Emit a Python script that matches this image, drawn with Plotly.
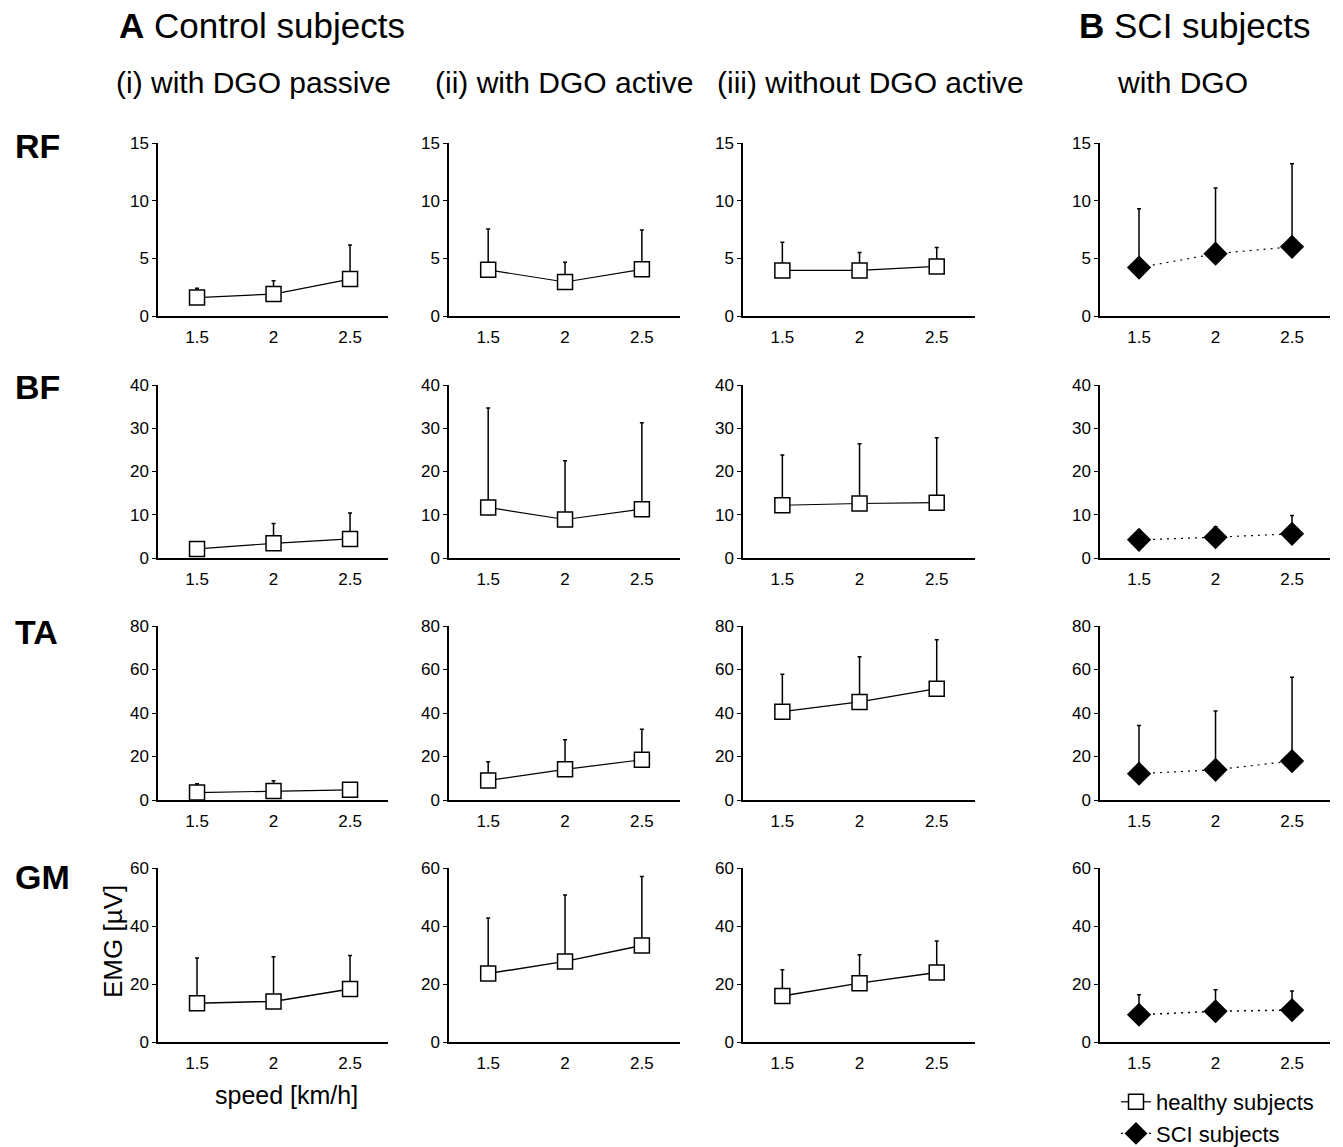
import plotly.graph_objects as go

W, H = 1343, 1147

# ---------------- data ----------------
speeds = [1.5, 2, 2.5]
speed_labels = ["1.5", "2", "2.5"]
muscles = ["RF", "BF", "TA", "GM"]
conditions = ["(i) with DGO passive", "(ii) with DGO active", "(iii) without DGO active", "with DGO"]
y_max = [15, 40, 80, 60]
y_step = [5, 10, 20, 20]

# mean EMG [µV] per muscle, per condition (3 healthy conditions, then SCI)
RF_mean = [[1.6, 1.9, 3.2], [4.0, 2.95, 4.05], [3.95, 3.95, 4.3], [4.2, 5.4, 6.0]]
RF_sd   = [[0.8, 1.15, 2.95], [3.55, 1.7, 3.4], [2.45, 1.55, 1.65], [5.1, 5.7, 7.2]]
BF_mean = [[2.1, 3.4, 4.4], [11.7, 8.9, 11.3], [12.2, 12.6, 12.8], [4.2, 4.8, 5.6]]
BF_sd   = [[1.6, 4.6, 6.0], [23.0, 13.6, 20.0], [11.6, 13.8, 15.0], [2.2, 2.4, 4.2]]
TA_mean = [[3.4, 4.1, 4.7], [9.0, 14.1, 18.5], [40.6, 45.1, 51.2], [12.1, 13.9, 17.9]]
TA_sd   = [[4.1, 4.8, 3.1], [8.6, 13.6, 14.0], [17.2, 20.8, 22.5], [22.1, 27.0, 38.5]]
GM_mean = [[13.4, 14.0, 18.3], [23.6, 27.8, 33.3], [15.9, 20.3, 24.0], [9.4, 10.6, 11.0]]
GM_sd   = [[15.6, 15.4, 11.5], [19.2, 22.9, 23.8], [9.0, 9.8, 10.8], [6.9, 7.4, 6.6]]

means = [RF_mean, BF_mean, TA_mean, GM_mean]
sds = [RF_sd, BF_sd, TA_sd, GM_sd]

# ---------------- layout geometry (pixels) ----------------
col_px = [(158, 388), (449, 680), (743, 975), (1100, 1330)]
row_px = [(143, 316), (385, 558), (626, 800), (868, 1042)]
x_range = [1.245, 2.748]

def px(x):
    return x / W

def py(y):
    return 1 - y / H

FONT = "Liberation Sans, Arial, sans-serif"

fig = go.Figure()
layout = dict(
    width=W, height=H,
    margin=dict(l=0, r=0, t=0, b=0, autoexpand=False),
    paper_bgcolor="white", plot_bgcolor="white",
    font=dict(family=FONT, color="black"),
    showlegend=True,
    legend=dict(x=px(1116), y=py(1081), xanchor="left", yanchor="top",
                font=dict(size=22, family=FONT, color="black"),
                bgcolor="rgba(0,0,0,0)", tracegroupgap=0, itemsizing="trace"),
)

idx = 0
for r, muscle in enumerate(muscles):
    for c in range(4):
        idx += 1
        xa = "x" if idx == 1 else f"x{idx}"
        ya = "y" if idx == 1 else f"y{idx}"
        sci = (c == 3)
        fig.add_trace(go.Scatter(
            x=speeds, y=means[r][c],
            xaxis=xa, yaxis=ya,
            mode="lines+markers",
            name="SCI subjects" if sci else "healthy subjects",
            showlegend=(r == 0 and c in (0, 3)),
            line=dict(color="black", width=1.5 if r == 3 else 1.2,
                      dash="2px,5px" if sci else "solid"),
            marker=dict(symbol="diamond" if sci else "square",
                        size=17 if sci else 15,
                        color="black" if sci else "white",
                        line=dict(color="black", width=1.5)),
            error_y=dict(type="data", symmetric=False, array=sds[r][c],
                         arrayminus=[0, 0, 0], color="black",
                         thickness=1.5, width=2),
            cliponaxis=False,
        ))
        x0, x1 = col_px[c]
        y0, y1 = row_px[r]
        layout["xaxis" if idx == 1 else f"xaxis{idx}"] = dict(
            domain=[px(x0), px(x1)], anchor=ya, range=x_range,
            tickmode="array", tickvals=speeds, ticktext=speed_labels,
            showline=True, linecolor="black", linewidth=1.5,
            ticks="outside", ticklen=5, tickcolor="rgba(0,0,0,0)",
            showgrid=False, zeroline=False,
            tickfont=dict(size=17, family=FONT, color="black"),
        )
        layout["yaxis" if idx == 1 else f"yaxis{idx}"] = dict(
            domain=[py(y1), py(y0)], anchor=xa, range=[0, y_max[r]],
            tickmode="linear", tick0=0, dtick=y_step[r],
            showline=True, linecolor="black", linewidth=1.5,
            ticks="outside", ticklen=4, tickwidth=1, tickcolor="black",
            showgrid=False, zeroline=False,
            tickfont=dict(size=17, family=FONT, color="black"),
        )

annotations = []

def text(x, y, s, size, xanchor="left", bold=False, angle=0):
    annotations.append(dict(
        x=px(x), y=py(y), xref="paper", yref="paper",
        text=f"<b>{s}</b>" if bold else s, showarrow=False,
        xanchor=xanchor, yanchor="middle", textangle=angle,
        font=dict(size=size, family=FONT, color="black")))

text(117, 25, "<b>A</b> Control subjects", 35)
text(1077, 25, "<b>B</b> SCI subjects", 35)
header_x = [114, 433, 715, 1115]
for hx, cond in zip(header_x, conditions):
    text(hx, 82, cond, 30)
row_label_y = [146, 387, 632, 877]
for ry, m in zip(row_label_y, muscles):
    text(13, ry, m, 34, bold=True)
text(113, 942, "EMG [µV]", 26, xanchor="center", angle=-90)
text(286, 1095, "speed [km/h]", 25, xanchor="center")

layout["annotations"] = annotations
fig.update_layout(**layout)
fig.write_html(
    "out.html",
    config={"displayModeBar": False},
    post_script="document.body.style.margin='0';document.body.style.overflow='hidden';",
)
